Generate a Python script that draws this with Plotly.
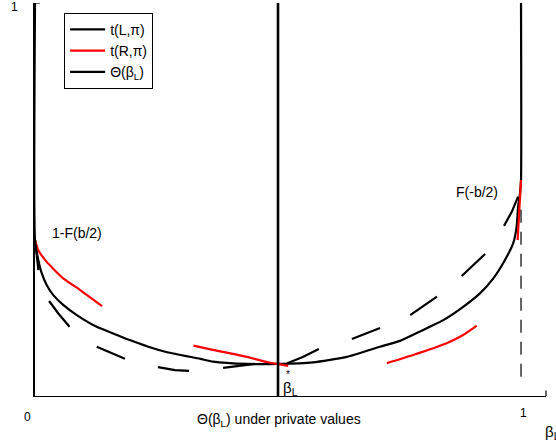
import plotly.graph_objects as go

# ---------------- data ----------------
beta_star = 0.5

# t(L, pi): solid black
tL_x = [0.0, 0.0, 0.0068, 0.0138, 0.024, 0.0377, 0.058, 0.086, 0.127, 0.161, 0.195, 0.233,
        0.272, 0.340, 0.366, 0.436, 0.498, 0.572, 0.642, 0.710, 0.751, 0.792, 0.840, 0.881,
        0.916, 0.943, 0.967, 0.984, 0.991, 0.994, 0.998, 1.0, 1.0]
tL_y = [1.005, 0.399, 0.348, 0.314, 0.284, 0.258, 0.233, 0.207, 0.177, 0.160, 0.143, 0.126,
        0.112, 0.095, 0.088, 0.082, 0.082, 0.086, 0.100, 0.126, 0.141, 0.165, 0.194, 0.228,
        0.263, 0.301, 0.348, 0.391, 0.433, 0.484, 0.519, 0.552, 1.005]

# t(R, pi): red (drawn in separated pieces)
tR_x = [0.0, 0.0068, 0.024, 0.058, 0.093, 0.138, None,
        0.326, 0.366, 0.436, 0.477, 0.498, 0.521, None,
        0.724, 0.778, 0.847, 0.881, 0.909, None,
        0.993, 1.0]
tR_y = [0.399, 0.373, 0.343, 0.301, 0.271, 0.230, None,
        0.129, 0.118, 0.100, 0.087, 0.082, 0.077, None,
        0.084, 0.105, 0.135, 0.156, 0.180, None,
        0.399, 0.552]

# Theta(beta_L): long-dashed black
th_x = [0.0, 0.007, None,
        0.029, 0.048, 0.071, None,
        0.127, 0.154, 0.185, None,
        0.253, 0.288, 0.317, None,
        0.387, 0.422, 0.453, None,
        0.519, 0.551, 0.584, None,
        0.652, 0.681, 0.710, None,
        0.772, 0.799, 0.827, None,
        0.878, 0.902, 0.926, None,
        0.965, 0.981, 0.994]
th_y = [0.399, 0.322, None,
        0.243, 0.211, 0.177, None,
        0.126, 0.111, 0.095, None,
        0.074, 0.066, 0.064, None,
        0.072, 0.077, 0.082, None,
        0.084, 0.100, 0.120, None,
        0.146, 0.161, 0.174, None,
        0.207, 0.230, 0.254, None,
        0.307, 0.335, 0.363, None,
        0.435, 0.471, 0.510]

# vertical dashed guide at beta_L = 1
guide_x = [1.0, 1.0]
guide_y = [0.476, 0.028]

# middle vertical at beta_L*
mid_x = [beta_star, beta_star]
mid_y = [0.0, 1.005]

FONT = "Arial, Liberation Sans, sans-serif"

fig = go.Figure()
fig.add_trace(go.Scatter(x=tL_x, y=tL_y, mode="lines", name="t(L,π)",
                         line=dict(color="black", width=2.2, shape="spline", smoothing=0.5)))
fig.add_trace(go.Scatter(x=tR_x, y=tR_y, mode="lines", name="t(R,π)",
                         line=dict(color="#ff0000", width=2.2, shape="spline", smoothing=0.5),
                         connectgaps=False))
fig.add_trace(go.Scatter(x=th_x, y=th_y, mode="lines", name="Θ(β<sub>L</sub>)",
                         line=dict(color="black", width=2.2), connectgaps=False))
fig.add_trace(go.Scatter(x=guide_x, y=guide_y, mode="lines", showlegend=False,
                         line=dict(color="black", width=1.2, dash="13px,9px")))
fig.add_trace(go.Scatter(x=mid_x, y=mid_y, mode="lines", showlegend=False,
                         line=dict(color="black", width=2.6)))

ann = []
def A(text, x, y, xref="x", yref="y", size=14, xanchor="center", yanchor="middle"):
    ann.append(dict(text=text, x=x, y=y, xref=xref, yref=yref, showarrow=False,
                    font=dict(family=FONT, size=size, color="black"),
                    xanchor=xanchor, yanchor=yanchor))

A("1-F(b/2)", 0.087, 0.417)
A("F(-b/2)", 0.909, 0.522)
A("Θ(β<sub>L</sub>) under private values", 0.502, -0.061, yref="paper")
A("0", -0.0137, -0.053, xref="paper", yref="paper", size=12)
A("1", 1.006, -0.043, yref="paper", size=12)
A("1", -0.041, 0.995, xref="paper", size=12)
A("β<sub>L</sub>", 0.994, -0.092, xref="paper", yref="paper", size=15, xanchor="left")
A("β<sub>L</sub>", 0.507, 0.020, size=15, xanchor="left")
A("*", 0.5206, 0.056, size=10)

fig.update_layout(
    width=556, height=447,
    margin=dict(l=35, r=10, t=3, b=51),
    paper_bgcolor="white", plot_bgcolor="white",
    font=dict(family=FONT, size=14, color="black"),
    xaxis=dict(range=[0, 1.0514], showgrid=False, zeroline=False, showticklabels=False,
               ticks="", showline=True, linecolor="black", linewidth=1.2),
    yaxis=dict(range=[0, 1.005], showgrid=False, zeroline=False, showticklabels=False,
               ticks="", showline=True, linecolor="black", linewidth=2.2),
    legend=dict(x=0.057, y=0.975, xanchor="left", yanchor="top",
                bordercolor="black", borderwidth=1, bgcolor="white", itemwidth=35,
                font=dict(family=FONT, size=14), tracegroupgap=0),
    annotations=ann,
    shapes=[
        dict(type="line", xref="paper", yref="y", x0=1, x1=1, y0=0, y1=0.014,
             line=dict(color="black", width=1.2)),
        dict(type="line", xref="x", yref="y", x0=0, x1=0.01, y0=1.005, y1=1.005,
             line=dict(color="black", width=1.2)),
    ],
)

fig.write_html("out.html")
